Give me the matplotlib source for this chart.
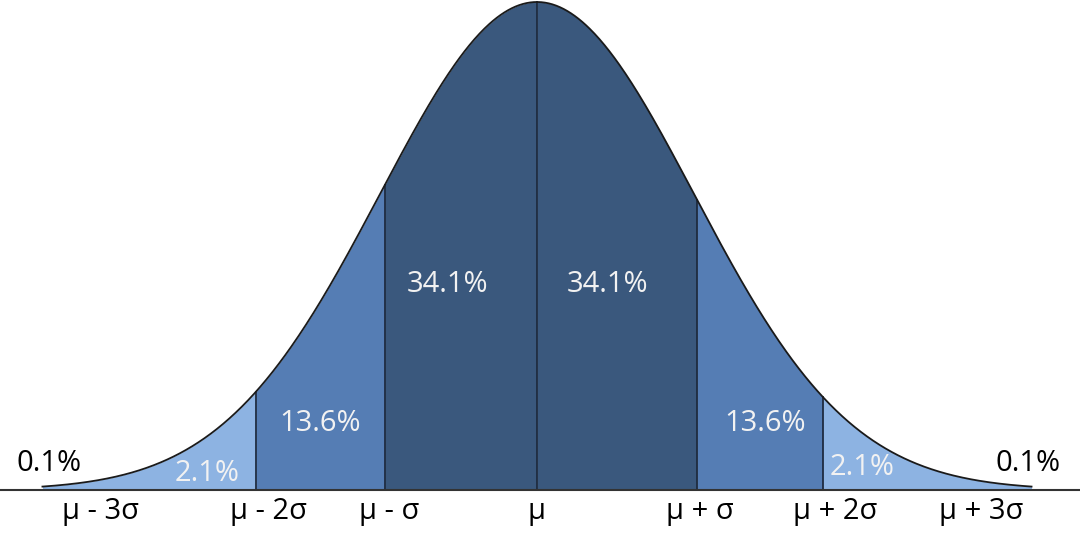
import numpy as np
import matplotlib.pyplot as plt

plt.rcParams['font.family'] = ['Open Sans', 'DejaVu Sans']

# band edges in sigma units
edges = [-1.79, -0.97, 0.0, 1.02, 1.82]
pct_labels = ['0.1%', '2.1%', '13.6%', '34.1%', '34.1%', '13.6%', '2.1%', '0.1%']
tick_labels = ['\u03bc - 3\u03c3', '\u03bc - 2\u03c3', '\u03bc - \u03c3', '\u03bc',
               '\u03bc + \u03c3', '\u03bc + 2\u03c3', '\u03bc + 3\u03c3']

# layout of the text (sigma units / peak-normalised height)
pct_pos = [(-3.11, 0.055), (-2.10, 0.033), (-1.38, 0.137), (-0.57, 0.422),
           (0.45, 0.422), (1.45, 0.137), (2.07, 0.047), (3.13, 0.055)]
tick_x = [-2.78, -1.71, -0.94, 0.0, 1.04, 1.90, 2.83]

light = '#8DB3E2'
mid = '#557DB4'
dark = '#3A587D'
band_colors = [light, mid, dark, dark, mid, light]

def curve(z):
    return np.exp(-0.5 * z ** 2)

fig = plt.figure(figsize=(10.8, 5.33), dpi=100)
ax = fig.add_axes([0, 0, 1, 1])
ax.set_xlim(-537 / 157, 543 / 157)
ax.set_ylim(-43 / 488, 490 / 488)
ax.axis('off')

tail = 3.15
bounds = [-tail] + edges + [tail]
for i in range(len(bounds) - 1):
    zz = np.linspace(bounds[i], bounds[i + 1], 200)
    ax.fill_between(zz, 0, curve(zz), color=band_colors[i], lw=0)

for e in edges:
    ax.plot([e, e], [0, curve(e)], color='#1E2B40', lw=1.3)

z = np.linspace(-tail, tail, 800)
ax.plot(z, curve(z), color='#1A1A1A', lw=1.3)
ax.axhline(0, color='#333333', lw=1.5)

for i, (t, (x, y)) in enumerate(zip(pct_labels, pct_pos)):
    c = 'black' if i in (0, 7) else '#F2F2F2'
    ax.text(x, y, t, ha='center', va='center', fontsize=21, color=c)

for x, t in zip(tick_x, tick_labels):
    ax.text(x, -0.045, t, ha='center', va='center', fontsize=21, color='black')

plt.savefig('out.png', dpi=100)
